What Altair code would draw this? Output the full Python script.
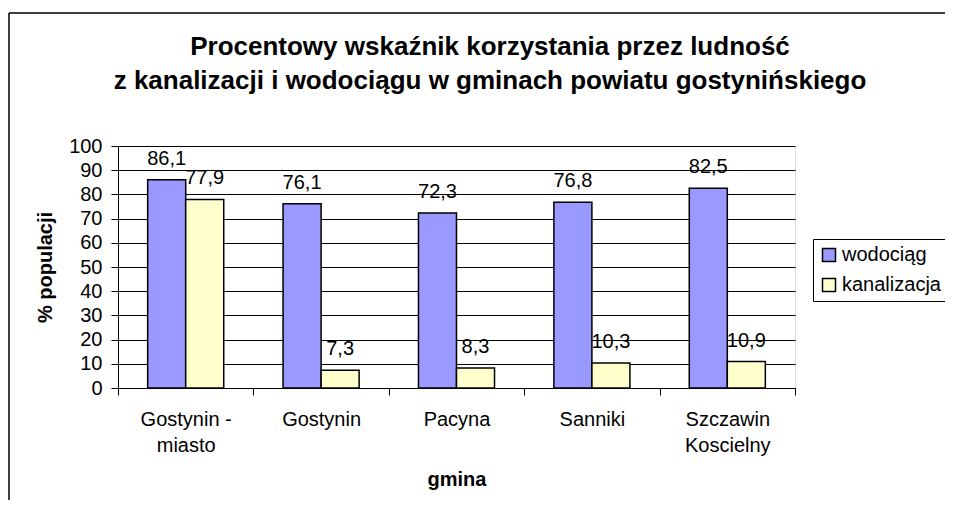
import altair as alt
import pandas as pd

gminy = ["Gostynin -\nmiasto", "Gostynin", "Pacyna", "Sanniki", "Szczawin\nKoscielny"]
wodociag = [86.1, 76.1, 72.3, 76.8, 82.5]
kanalizacja = [77.9, 7.3, 8.3, 10.3, 10.9]
series = ["wodociąg", "kanalizacja"]
colors = ["#9999FF", "#FFFFCC"]
y_ticks = [0, 10, 20, 30, 40, 50, 60, 70, 80, 90, 100]
title_lines = ["Procentowy wskaźnik korzystania przez ludność",
               "z kanalizacji i wodociągu w gminach powiatu gostynińskiego"]

rows = []
for g, w, k in zip(gminy, wodociag, kanalizacja):
    rows.append({"gmina": g, "seria": series[0], "value": w})
    rows.append({"gmina": g, "seria": series[1], "value": k})
df = pd.DataFrame(rows)

FONT = "Liberation Sans"

x_enc = alt.X("gmina:N", sort=gminy, title="gmina",
              scale=alt.Scale(paddingInner=0, paddingOuter=0),
              axis=alt.Axis(labelAngle=0, labelExpr="split(datum.label, '\\n')",
                            tickBand="extent", tickSize=7, tickColor="black",
                            domainColor="black", labelFontSize=20, labelFont=FONT,
                            labelColor="black", labelPadding=14, labelLineHeight=26,
                            titleFontSize=20, titleFont=FONT, titleFontWeight="bold",
                            titleColor="black", titlePadding=14))
xoff = alt.XOffset("seria:N", sort=series,
                   scale=alt.Scale(paddingOuter=0.78, paddingInner=0))
y_enc = alt.Y("value:Q", title="% populacji",
              scale=alt.Scale(domain=[0, 100], nice=False),
              axis=alt.Axis(values=y_ticks, tickCount=20, labelOverlap=False,
                            grid=True, gridColor="black",
                            gridWidth=1, tickSize=7, tickColor="black", domainColor="black",
                            labelFontSize=20, labelFont=FONT, labelColor="black",
                            labelPadding=9, titleFontSize=20, titleFont=FONT,
                            titleFontWeight="bold", titleColor="black", titlePadding=13))

base = alt.Chart(df).encode(x=x_enc, xOffset=xoff, y=y_enc)

bars = base.mark_bar(stroke="black", strokeWidth=1.5).encode(
    color=alt.Color("seria:N", sort=series,
                    scale=alt.Scale(domain=series, range=colors),
                    legend=alt.Legend(title=None, orient="none", legendX=695, legendY=93,
                                      strokeColor="black", fillColor="white", padding=6,
                                      symbolType="square", symbolSize=169,
                                      symbolStrokeColor="black", symbolStrokeWidth=1.5,
                                      labelFontSize=20, labelFont=FONT, labelColor="black",
                                      labelOffset=3, rowPadding=10, cornerRadius=0)),
)

labels = base.transform_calculate(
    lab="replace(format(datum.value, '.1f'), '.', ',')"
).mark_text(fontSize=20, font=FONT, color="black", dy=-15, baseline="alphabetic").encode(
    text="lab:N",
)

one = pd.DataFrame({"a": [0]})
frame_top = alt.Chart(one).mark_rule(color="black", strokeWidth=1.5).encode(
    x=alt.value(-109), x2=alt.value(2000), y=alt.value(-133))
frame_left = alt.Chart(one).mark_rule(color="black", strokeWidth=1.5).encode(
    x=alt.value(-109), y=alt.value(-133), y2=alt.value(1000))

title = alt.Chart(one).mark_text(
    text=title_lines, fontSize=26, font=FONT, fontWeight="bold", color="black",
    lineHeight=34, baseline="middle", align="center"
).encode(x=alt.value(372), y=alt.value(-99))

chart = alt.layer(frame_top, frame_left, title, bars, labels).properties(
    width=677, height=242,
    autosize=alt.AutoSizeParams(type="none"),
    padding={"left": 110, "top": 138, "right": 150, "bottom": 112},
).configure_view(fill="#C0C0C0", stroke="#808080", strokeWidth=1).configure(
    background="white")

chart.save("out.html", embed_options={"renderer": "svg", "actions": False})
